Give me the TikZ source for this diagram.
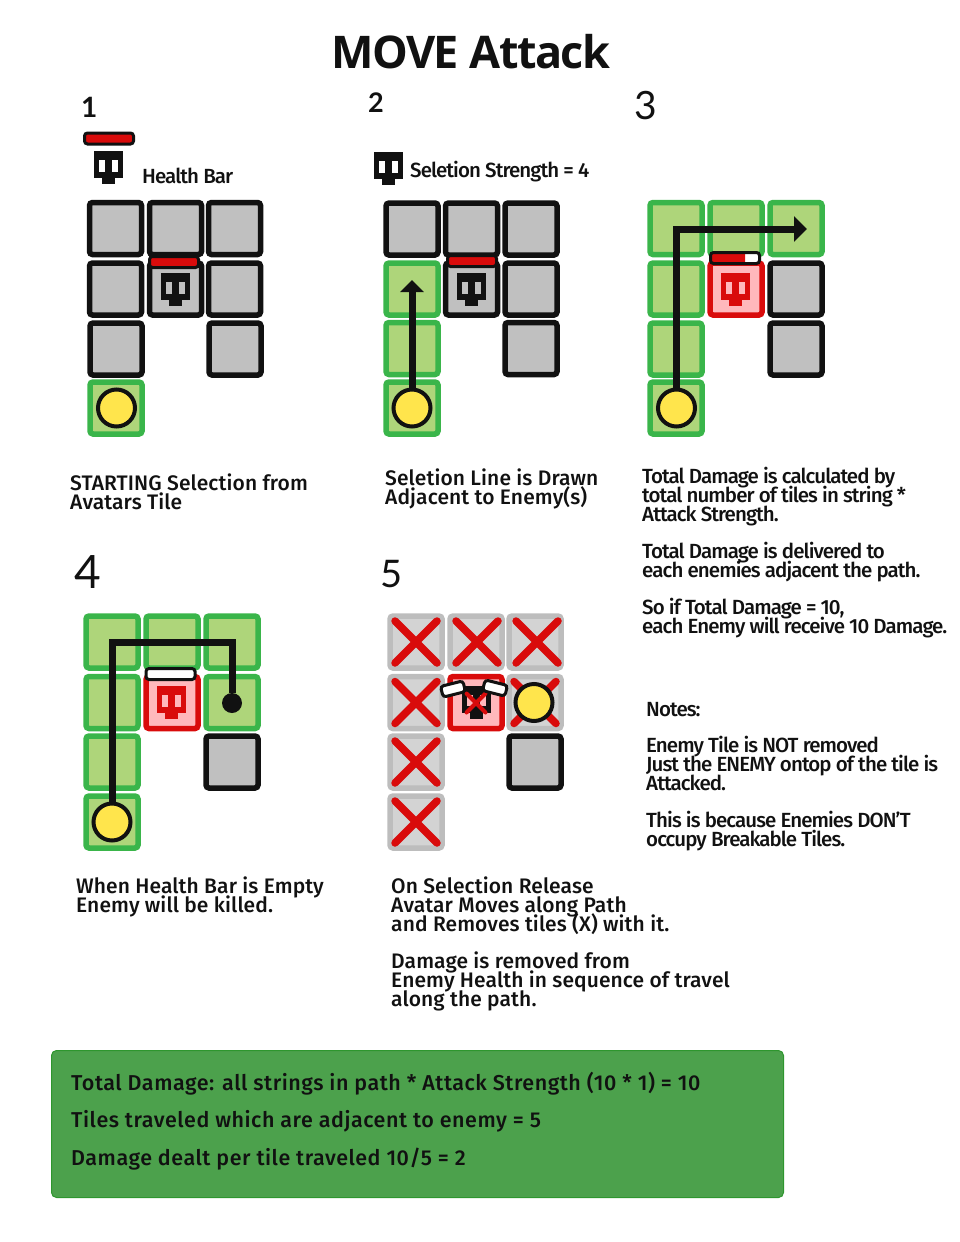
\documentclass[tikz,border=0pt]{standalone}
\usepackage{xcolor}
\usepackage{fontspec}
\usepackage{tikz}
\usetikzlibrary{arrows.meta,shapes.misc}
\setmainfont{Open Sans}
\newfontfamily\headfont[LetterSpace=-3.2]{Open Sans Bold}
\newfontfamily\capfont[LetterSpace=0.5]{Fira Sans Medium}
\newfontfamily\notefont[LetterSpace=-4.5]{Fira Sans Medium}
\newfontfamily\boxfont[LetterSpace=2.5]{Fira Sans Medium}
\newfontfamily\handfont{Lato}
\lineskiplimit=-30pt
\definecolor{tilegrey}{RGB}{192,192,192}
\definecolor{tileblack}{RGB}{17,17,17}
\definecolor{softgreen}{RGB}{174,213,122}
\definecolor{tilegreen}{RGB}{58,181,74}
\definecolor{softred}{RGB}{255,184,188}
\definecolor{tilered}{RGB}{217,11,11}
\definecolor{softfade}{RGB}{211,211,211}
\definecolor{tilefade}{RGB}{189,189,189}
\definecolor{avataryellow}{RGB}{255,229,76}
\definecolor{boxgreen}{RGB}{76,161,76}
\definecolor{boxedge}{RGB}{46,150,46}
\tikzset{
  tile/.style={
    rounded corners=3pt,
    line width=5.5pt,
    minimum size=52pt,
    inner sep=0pt
  },
  greytile/.style={tile, fill=tilegrey, draw=tileblack},
  greentile/.style={tile, fill=softgreen, draw=tilegreen},
  redtile/.style={tile, fill=softred, draw=tilered},
  fadetile/.style={tile, fill=softfade, draw=tilefade},
  avatar/.style={
    circle,
    draw=tileblack,
    fill=avataryellow,
    line width=4pt,
    minimum size=37pt,
    inner sep=0pt
  },
  healthbar/.style={
    draw=tileblack,
    fill=tilered,
    rounded corners=3pt,
    line width=3pt,
    minimum width=49pt,
    minimum height=11pt,
    inner sep=0pt
  },
  pathline/.style={line width=7pt, draw=tileblack},
  pathdot/.style={circle, fill=tileblack, minimum size=20pt, inner sep=0pt},
  xmark/.style={
    cross out,
    draw=tilered,
    line width=7.5pt,
    line cap=round,
    minimum size=42pt,
    inner sep=0pt,
    outer sep=0pt
  },
  stepnum/.style={anchor=base west, inner sep=0pt, text=tileblack},
  titletext/.style={
    anchor=base west, inner sep=0pt, text=tileblack,
    font=\headfont\fontsize{45}{45}\selectfont
  },
  captext/.style={
    anchor=base west, inner sep=0pt, align=left, text=tileblack,
    font=\capfont\fontsize{21}{19}\selectfont
  },
  notetext/.style={
    anchor=base west, inner sep=0pt, align=left, text=tileblack,
    font=\notefont\fontsize{20.5}{19}\selectfont
  },
  boxtext/.style={
    anchor=base west, inner sep=0pt, align=left, text=tileblack,
    font=\boxfont\fontsize{21.5}{37.5}\selectfont
  },
  pics/skull/.style 2 args={
    code={
      \fill[#1] (-14.5,-13.5) rectangle (14.5,13.5);
      \fill[#1] (-6.5,13.5) rectangle (6.5,19.5);
      \fill[#2] (-9.5,-4.5) rectangle (-3.5,7);
      \fill[#2] (3.5,-4.5) rectangle (9.5,7);
    }
  }
}
\begin{document}
\begin{tikzpicture}[x=1pt,y=-1pt]
  \useasboundingbox (0,0) rectangle (960,1242);

  \node[titletext] (title) at (331,68) {MOVE Attack};

  % step 1
  \node[stepnum,font=\handfont\bfseries\fontsize{28}{28}\selectfont] (numA) at (81,117) {1};
  \node[healthbar] (legendbar) at (109,138.5) {};
  \pic (legendskull) at (108.5,164.5) {skull={tileblack}{white}};
  \node[notetext] (legendtext) at (142,183) {Health Bar};
  \node[greytile] (a11) at (115.5,228.5) {};
  \node[greytile] (a12) at (175.5,228.5) {};
  \node[greytile] (a13) at (234.5,228.5) {};
  \node[greytile] (a21) at (115.5,289) {};
  \node[greytile] (a22) at (175.5,289) {};
  \node[greytile] (a23) at (234.5,289) {};
  \node[greytile] (a31) at (116,349) {};
  \node[greytile] (a33) at (235,349) {};
  \node[greentile] (a41) at (116,408) {};
  \node[healthbar] (barA) at (174,262) {};
  \pic (skullA) at (175.5,286.5) {skull={tileblack}{tilegrey}};
  \node[avatar] (avatarA) at (116.5,408) {};
  \node[captext] (textA) at (70,509) {STARTING Selection from\\Avatars Tile};

  % step 2
  \node[stepnum,font=\handfont\bfseries\fontsize{27}{27}\selectfont] (numB) at (368,112) {2};
  \pic (strengthskull) at (388,165.5) {skull={tileblack}{white}};
  \node[notetext] (strengthtext) at (410,177) {Seletion Strength = 4};
  \node[greytile] (b11) at (412,229) {};
  \node[greytile] (b12) at (471.5,229) {};
  \node[greytile] (b13) at (531,229) {};
  \node[greentile] (b21) at (412,289) {};
  \node[greytile] (b22) at (471.5,289) {};
  \node[greytile] (b23) at (531,289) {};
  \node[greentile] (b31) at (412,348.5) {};
  \node[greytile] (b33) at (531,348.5) {};
  \node[greentile] (b41) at (412,408) {};
  \node[healthbar] (barB) at (472,261) {};
  \pic (skullB) at (471.5,286.5) {skull={tileblack}{tilegrey}};
  \node[avatar] (avatarB) at (412,408) {};
  \coordinate (arrowB) at (412,280);
  \draw[pathline,-{Triangle[length=12pt,width=23pt]}] (avatarB.north) -- (arrowB);
  \node[captext] (textB) at (385,504) {Seletion Line is Drawn\\Adjacent to Enemy(s)};

  % step 3
  \node[stepnum,font=\handfont\fontsize{39}{39}\selectfont] (numC) at (634,119) {3};
  \node[greentile] (c11) at (676,228.5) {};
  \node[greentile] (c12) at (736,228.5) {};
  \node[greentile] (c13) at (796,228.5) {};
  \node[greentile] (c21) at (676,289) {};
  \node[redtile] (c22) at (736,289) {};
  \node[greytile] (c23) at (796,289) {};
  \node[greentile] (c31) at (676,349) {};
  \node[greytile] (c33) at (796,349) {};
  \node[greentile] (c41) at (676,408) {};
  \node[healthbar,fill=white,path picture={\fill[tilered] (-30,-10) rectangle (10,10);}]
    (barC) at (735,258) {};
  \pic (skullC) at (735.5,286.5) {skull={tilered}{softred}};
  \node[avatar] (avatarC) at (676.5,408) {};
  \coordinate (arrowC) at (807,229);
  \draw[pathline,-{Triangle[length=13pt,width=25pt]}] (avatarC.north) |- (arrowC);
  \node[notetext] (textC) at (642,633) {Total Damage is calculated by\\total number of tiles in string *\\Attack Strength.\\[18pt]Total Damage is delivered to\\each enemies adjacent the path.\\[18pt]So if Total Damage = 10,\\each Enemy will receive 10 Damage.};

  % notes
  \node[notetext] (notes) at (646,846) {Notes:\\[17pt]Enemy Tile is NOT removed\\Just the ENEMY ontop of the tile is\\Attacked.\\[18pt]This is because Enemies DON’T\\occupy Breakable Tiles.};

  % step 4
  \node[stepnum,font=\handfont\fontsize{46}{46}\selectfont] (numD) at (74,588) {4};
  \node[greentile] (d11) at (112,642) {};
  \node[greentile] (d12) at (172,642) {};
  \node[greentile] (d13) at (232,642) {};
  \node[greentile] (d21) at (112,702.5) {};
  \node[redtile] (d22) at (172,702.5) {};
  \node[greentile] (d23) at (232,702.5) {};
  \node[greentile] (d31) at (112,762) {};
  \node[greytile] (d33) at (232,762) {};
  \node[greentile] (d41) at (112,822) {};
  \node[healthbar,fill=white] (barD) at (170.5,674) {};
  \pic (skullD) at (171.5,699.5) {skull={tilered}{softred}};
  \node[avatar] (avatarD) at (112,822) {};
  \node[pathdot] (dotD) at (232,703) {};
  \draw[pathline] (avatarD.north) |- (d13.center) -- (dotD);
  \node[captext] (textD) at (76,912) {When Health Bar is Empty\\Enemy will be killed.};

  % step 5
  \node[stepnum,font=\handfont\fontsize{38}{38}\selectfont] (numE) at (380,587) {5};
  \node[fadetile] (e11) at (416,642) {};
  \node[fadetile] (e12) at (476,642) {};
  \node[fadetile] (e13) at (535,642) {};
  \node[fadetile] (e21) at (416,702.5) {};
  \node[redtile] (e22) at (476,702.5) {};
  \node[fadetile] (e23) at (535,702.5) {};
  \node[fadetile] (e31) at (416,762) {};
  \node[greytile] (e33) at (535,762) {};
  \node[fadetile] (e41) at (416,822) {};
  \node[xmark] (xe11) at (416,642) {};
  \node[xmark] (xe12) at (477,642) {};
  \node[xmark] (xe13) at (537,642) {};
  \node[xmark] (xe21) at (416,702.5) {};
  \node[xmark] (xe23) at (535,702.5) {};
  \node[xmark] (xe31) at (416,762) {};
  \node[xmark] (xe41) at (416,822) {};
  \pic (skullE) at (476,699) {skull={tileblack}{softred}};
  \node[xmark,line width=4pt,minimum size=19pt] (xe22) at (476,703) {};
  \node[healthbar,fill=white,minimum width=23pt,rotate=14] (barEleft) at (453,689) {};
  \node[healthbar,fill=white,minimum width=23pt,rotate=-14] (barEright) at (495,688) {};
  \node[avatar] (avatarE) at (534,702.5) {};
  \node[captext] (textE) at (391,1006) {On Selection Release\\Avatar Moves along Path\\and Removes tiles (X) with it.\\[18pt]Damage is removed from\\Enemy Health in sequence of travel\\along the path.};

  % summary
  \node[draw=boxedge,fill=boxgreen,rounded corners=5pt,line width=1pt,
    minimum width=732pt,minimum height=147pt,inner sep=0pt] (summary) at (417.5,1124) {};
  \node[boxtext] (summarytext) at (71,1165) {Total Damage: all strings in path * Attack Strength (10 * 1) = 10\\Tiles traveled which are adjacent to enemy = 5\\Damage dealt per tile traveled 10/5 = 2};
\end{tikzpicture}
\end{document}
